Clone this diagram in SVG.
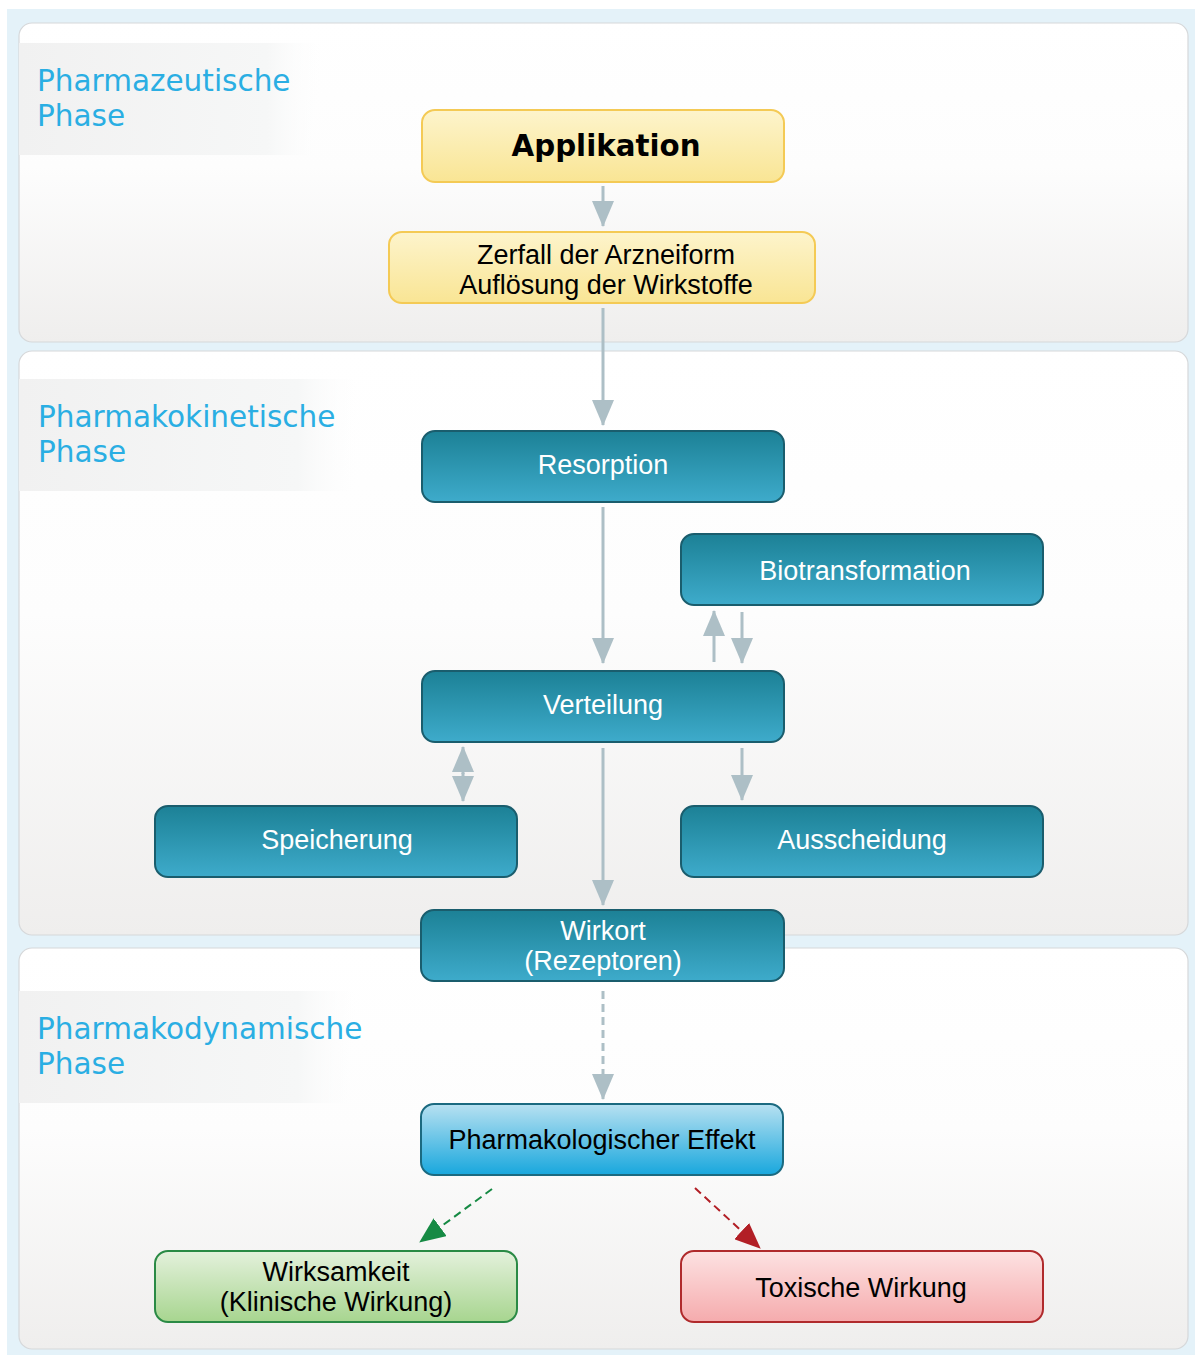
<svg xmlns="http://www.w3.org/2000/svg" width="1195" height="1355" viewBox="0 0 1195 1355">
  <defs>
    <linearGradient id="panelFill" x1="0" y1="0" x2="0" y2="1">
      <stop offset="0" stop-color="#ffffff"/>
      <stop offset="0.45" stop-color="#fdfdfd"/>
      <stop offset="1" stop-color="#efeeed"/>
    </linearGradient>
    <linearGradient id="labelFill" x1="0" y1="0" x2="1" y2="0">
      <stop offset="0" stop-color="#f1f1f1"/>
      <stop offset="0.8" stop-color="#f6f7f7"/>
      <stop offset="1" stop-color="#ffffff" stop-opacity="0"/>
    </linearGradient>
    <linearGradient id="yellowFill" x1="0" y1="0" x2="0" y2="1">
      <stop offset="0" stop-color="#fdf4cc"/>
      <stop offset="1" stop-color="#f9e594"/>
    </linearGradient>
    <linearGradient id="tealFill" x1="0" y1="0" x2="0" y2="1">
      <stop offset="0" stop-color="#1c8196"/>
      <stop offset="1" stop-color="#3eabcb"/>
    </linearGradient>
    <linearGradient id="blueFill" x1="0" y1="0" x2="0" y2="1">
      <stop offset="0" stop-color="#b8e1f1"/>
      <stop offset="1" stop-color="#18a7dd"/>
    </linearGradient>
    <linearGradient id="greenFill" x1="0" y1="0" x2="0" y2="1">
      <stop offset="0" stop-color="#e4f1dc"/>
      <stop offset="1" stop-color="#a7d58f"/>
    </linearGradient>
    <linearGradient id="redFill" x1="0" y1="0" x2="0" y2="1">
      <stop offset="0" stop-color="#fde2e2"/>
      <stop offset="1" stop-color="#f5abad"/>
    </linearGradient>
    <marker id="headGray" viewBox="0 0 26 22" refX="25" refY="11" markerWidth="26" markerHeight="22" markerUnits="userSpaceOnUse" orient="auto">
      <path d="M0,0 L26,11 L0,22 Z" fill="#adbfc6"/>
    </marker>
    <marker id="headGreen" viewBox="0 0 26 22" refX="25" refY="11" markerWidth="26" markerHeight="22" markerUnits="userSpaceOnUse" orient="auto">
      <path d="M0,0 L26,11 L0,22 Z" fill="#168a44"/>
    </marker>
    <marker id="headRed" viewBox="0 0 26 22" refX="25" refY="11" markerWidth="26" markerHeight="22" markerUnits="userSpaceOnUse" orient="auto">
      <path d="M0,0 L26,11 L0,22 Z" fill="#b21f26"/>
    </marker>
  </defs>
  <style>
    .panel { fill: url(#panelFill); stroke: #d6d8da; stroke-width: 1.2; }
    .label-bg { fill: url(#labelFill); }
    .phase { font-family: "DejaVu Sans", Verdana, sans-serif; font-size: 29.5px; fill: #2aaee3; }
    .node-text { font-family: "Liberation Sans", Arial, sans-serif; font-size: 27px; text-anchor: middle; }
    .yellow { fill: url(#yellowFill); stroke: #f4ca55; stroke-width: 2; }
    .teal { fill: url(#tealFill); stroke: #1a5d6d; stroke-width: 2; }
    .blue { fill: url(#blueFill); stroke: #1b6a80; stroke-width: 2; }
    .green { fill: url(#greenFill); stroke: #2a8a45; stroke-width: 2; }
    .red { fill: url(#redFill); stroke: #b02a2c; stroke-width: 2; }
    .white { fill: #ffffff; }
    .black { fill: #000000; }
    .conn { fill: none; stroke: #adbfc6; stroke-width: 3; }
    .dash { stroke-dasharray: 8 5; }
    .conn-green { stroke: #168a44; stroke-width: 2; }
    .conn-red { stroke: #b21f26; stroke-width: 2; }
  </style>

  <!-- backdrop -->
  <rect x="0" y="0" width="1195" height="1355" fill="#ffffff"/>
  <rect x="7" y="9" width="1188" height="1346" fill="#e4f2f9"/>

  <!-- phase panels -->
  <g id="phase-pharmazeutisch">
    <rect class="panel" x="19" y="23" width="1169" height="319" rx="13"/>
    <rect class="label-bg" x="19" y="43" width="310" height="112"/>
    <text class="phase" x="37" y="91">Pharmazeutische</text>
    <text class="phase" x="37" y="126">Phase</text>
  </g>
  <g id="phase-pharmakokinetisch">
    <rect class="panel" x="19" y="351" width="1169" height="584" rx="13"/>
    <rect class="label-bg" x="19" y="379" width="348" height="112"/>
    <text class="phase" x="38" y="427">Pharmakokinetische</text>
    <text class="phase" x="38" y="462">Phase</text>
  </g>
  <g id="phase-pharmakodynamisch">
    <rect class="panel" x="19" y="948" width="1169" height="401" rx="13"/>
    <rect class="label-bg" x="19" y="991" width="348" height="112"/>
    <text class="phase" x="37" y="1039">Pharmakodynamische</text>
    <text class="phase" x="37" y="1074">Phase</text>
  </g>

  <!-- connectors -->
  <g id="connectors">
    <line class="conn" x1="603" y1="186" x2="603" y2="226" marker-end="url(#headGray)"/>
    <line class="conn" x1="603" y1="308" x2="603" y2="425" marker-end="url(#headGray)"/>
    <line class="conn" x1="603" y1="507" x2="603" y2="663" marker-end="url(#headGray)"/>
    <line class="conn" x1="714" y1="662" x2="714" y2="611" marker-end="url(#headGray)"/>
    <line class="conn" x1="742" y1="612" x2="742" y2="663" marker-end="url(#headGray)"/>
    <line class="conn" x1="463" y1="774" x2="463" y2="747" marker-end="url(#headGray)"/>
    <line class="conn" x1="463" y1="773" x2="463" y2="801" marker-end="url(#headGray)"/>
    <line class="conn" x1="742" y1="748" x2="742" y2="800" marker-end="url(#headGray)"/>
    <line class="conn" x1="603" y1="748" x2="603" y2="905" marker-end="url(#headGray)"/>
    <line class="conn dash" x1="603" y1="991" x2="603" y2="1099" marker-end="url(#headGray)"/>
    <line class="conn dash conn-green" x1="492" y1="1189" x2="420" y2="1242" marker-end="url(#headGreen)"/>
    <line class="conn dash conn-red" x1="695" y1="1188" x2="760" y2="1248" marker-end="url(#headRed)"/>
  </g>

  <!-- nodes -->
  <g id="node-applikation">
    <rect class="yellow" x="422" y="110" width="362" height="72" rx="13"/>
    <text x="606" y="156" text-anchor="middle" font-family="'DejaVu Sans', Verdana, sans-serif" font-weight="bold" font-size="29.3" fill="#000">Applikation</text>
  </g>
  <g id="node-zerfall">
    <rect class="yellow" x="389" y="232" width="426" height="71" rx="13"/>
    <text class="node-text black" x="606" y="264">Zerfall der Arzneiform</text>
    <text class="node-text black" x="606" y="294">Auflösung der Wirkstoffe</text>
  </g>
  <g id="node-resorption">
    <rect class="teal" x="422" y="431" width="362" height="71" rx="13"/>
    <text class="node-text white" x="603" y="474">Resorption</text>
  </g>
  <g id="node-biotransformation">
    <rect class="teal" x="681" y="534" width="362" height="71" rx="13"/>
    <text class="node-text white" x="865" y="580">Biotransformation</text>
  </g>
  <g id="node-verteilung">
    <rect class="teal" x="422" y="671" width="362" height="71" rx="13"/>
    <text class="node-text white" x="603" y="714">Verteilung</text>
  </g>
  <g id="node-speicherung">
    <rect class="teal" x="155" y="806" width="362" height="71" rx="13"/>
    <text class="node-text white" x="337" y="849">Speicherung</text>
  </g>
  <g id="node-ausscheidung">
    <rect class="teal" x="681" y="806" width="362" height="71" rx="13"/>
    <text class="node-text white" x="862" y="849">Ausscheidung</text>
  </g>
  <g id="node-wirkort">
    <rect class="teal" x="421" y="910" width="363" height="71" rx="13"/>
    <text class="node-text white" x="603" y="940">Wirkort</text>
    <text class="node-text white" x="603" y="970">(Rezeptoren)</text>
  </g>
  <g id="node-effekt">
    <rect class="blue" x="421" y="1104" width="362" height="71" rx="13"/>
    <text class="node-text black" x="602" y="1149">Pharmakologischer Effekt</text>
  </g>
  <g id="node-wirksamkeit">
    <rect class="green" x="155" y="1251" width="362" height="71" rx="13"/>
    <text class="node-text black" x="336" y="1281">Wirksamkeit</text>
    <text class="node-text black" x="336" y="1311">(Klinische Wirkung)</text>
  </g>
  <g id="node-toxisch">
    <rect class="red" x="681" y="1251" width="362" height="71" rx="13"/>
    <text class="node-text black" x="861" y="1297">Toxische Wirkung</text>
  </g>
</svg>
